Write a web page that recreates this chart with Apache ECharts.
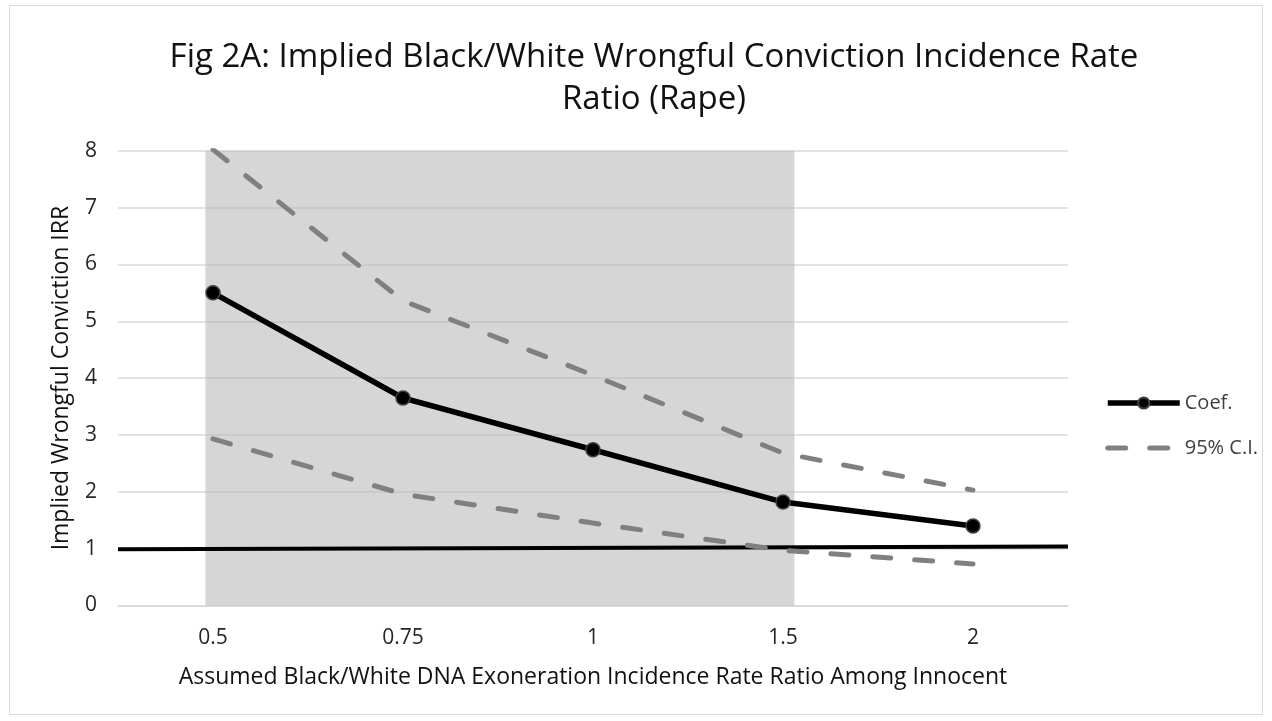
<!DOCTYPE html>
<html><head><meta charset="utf-8">
<script src="https://cdn.jsdelivr.net/npm/echarts@6/dist/echarts.min.js"></script>
<style>html,body{margin:0;padding:0;background:#fff}#c{width:1272px;height:721px}</style>
</head><body><div id="c"></div>
<script>
const categories = ['0.5', '0.75', '1', '1.5', '2'];
const coef = [5.50, 3.65, 2.74, 1.82, 1.40];
const ciUpper = [8.02, 5.36, 4.05, 2.68, 2.03];
const ciLower = [2.93, 1.96, 1.45, 0.97, 0.73];
const yTicks = [0, 1, 2, 3, 4, 5, 6, 7, 8];
// reference line (IRR = 1), in category-index units across the full plot width
const refLineX = [-0.5, 4.5];
const refLineY = [0.99, 1.04];
// shaded band (category-index units, value units)
const shadeX = [-0.04, 3.06];
const shadeY = [0, 8.12];

const font = '"Open Sans", Carlito, Calibri, sans-serif';
const chart = echarts.init(document.getElementById('c'));
chart.setOption({
  animation: false,
  backgroundColor: '#fff',
  graphic: [{type:'rect', shape:{x:9.5,y:5.5,width:1253,height:709}, style:{fill:'none', stroke:'#d9d9d9', lineWidth:1}, silent:true}],
  title: {
    text: 'Fig 2A: Implied Black/White Wrongful Conviction Incidence Rate\nRatio (Rape)',
    left: 649, textAlign: 'center', top: 32,
    textStyle: {fontFamily: font, fontSize: 33, fontWeight: 'normal', color: '#111', lineHeight: 42}
  },
  legend: {
    orient: 'vertical', left: 1100, top: 388, itemWidth: 72, itemHeight: 14, itemGap: 25,
    data: [
      {name: 'Coef.', lineStyle: {width: 5.5}},
      {name: '95% C.I.', lineStyle: {width: 5}, itemStyle: {color: 'rgba(0,0,0,0)', borderColor: 'rgba(0,0,0,0)', borderWidth: 0}}
    ],
    textStyle: {fontFamily: font, fontSize: 20, color: '#404040', padding: [0,0,0,0]}
  },
  grid: {left: 118, right: 204, top: 150.7, bottom: 115.5, containLabel: false},
  xAxis: [{
    type: 'category', data: categories, boundaryGap: true,
    name: 'Assumed Black/White DNA Exoneration Incidence Rate Ratio Among Innocent',
    nameLocation: 'middle', nameGap: 60,
    nameTextStyle: {fontFamily: font, fontSize: 23, color: '#111'},
    axisLine: {show: true, lineStyle: {color: '#d9d9d9', width: 1.5}},
    axisTick: {show: false},
    axisLabel: {fontFamily: font, fontSize: 21, color: '#262626', margin: 22}
  }, {
    type: 'value', min: refLineX[0], max: refLineX[1], show: false
  }],
  yAxis: {
    type: 'value', min: yTicks[0], max: yTicks[yTicks.length-1], interval: 1,
    name: 'Implied Wrongful Conviction IRR', nameLocation: 'middle', nameGap: 45, nameRotate: 90,
    nameTextStyle: {fontFamily: font, fontSize: 23, color: '#111'},
    axisLine: {show: false}, axisTick: {show: false},
    axisLabel: {fontFamily: font, fontSize: 21, color: '#262626', margin: 21},
    splitLine: {lineStyle: {color: '#d9d9d9', width: 1.5}}
  },
  series: [
    {
      name: 'shade', type: 'line', xAxisIndex: 1, data: [], z: 1,
      markArea: {silent: true, itemStyle: {color: 'rgba(185,185,185,0.58)'},
        data: [[{coord: [shadeX[0], shadeY[0]]}, {coord: [shadeX[1], shadeY[1]]}]]}
    },
    {
      name: 'ref', type: 'line', xAxisIndex: 1, z: 2,
      data: [[refLineX[0], refLineY[0]], [refLineX[1], refLineY[1]]],
      symbol: 'none', lineStyle: {color: '#000', width: 4}
    },
    {
      name: '95% C.I.', type: 'line', data: ciUpper, z: 3, symbol: 'none',
      lineStyle: {color: '#808080', width: 5, type: [18, 24], cap: 'round'},
      itemStyle: {color: '#808080'}
    },
    {
      name: '95% C.I.', type: 'line', data: ciLower, z: 3, symbol: 'none',
      lineStyle: {color: '#808080', width: 5, type: [18, 24], cap: 'round'},
      itemStyle: {color: '#808080'}
    },
    {
      name: 'Coef.', type: 'line', data: coef, z: 4,
      symbol: 'circle', symbolSize: 14,
      lineStyle: {color: '#000', width: 5.5},
      itemStyle: {color: '#000', borderColor: '#404040', borderWidth: 1.5}
    }
  ]
});
</script></body></html>
